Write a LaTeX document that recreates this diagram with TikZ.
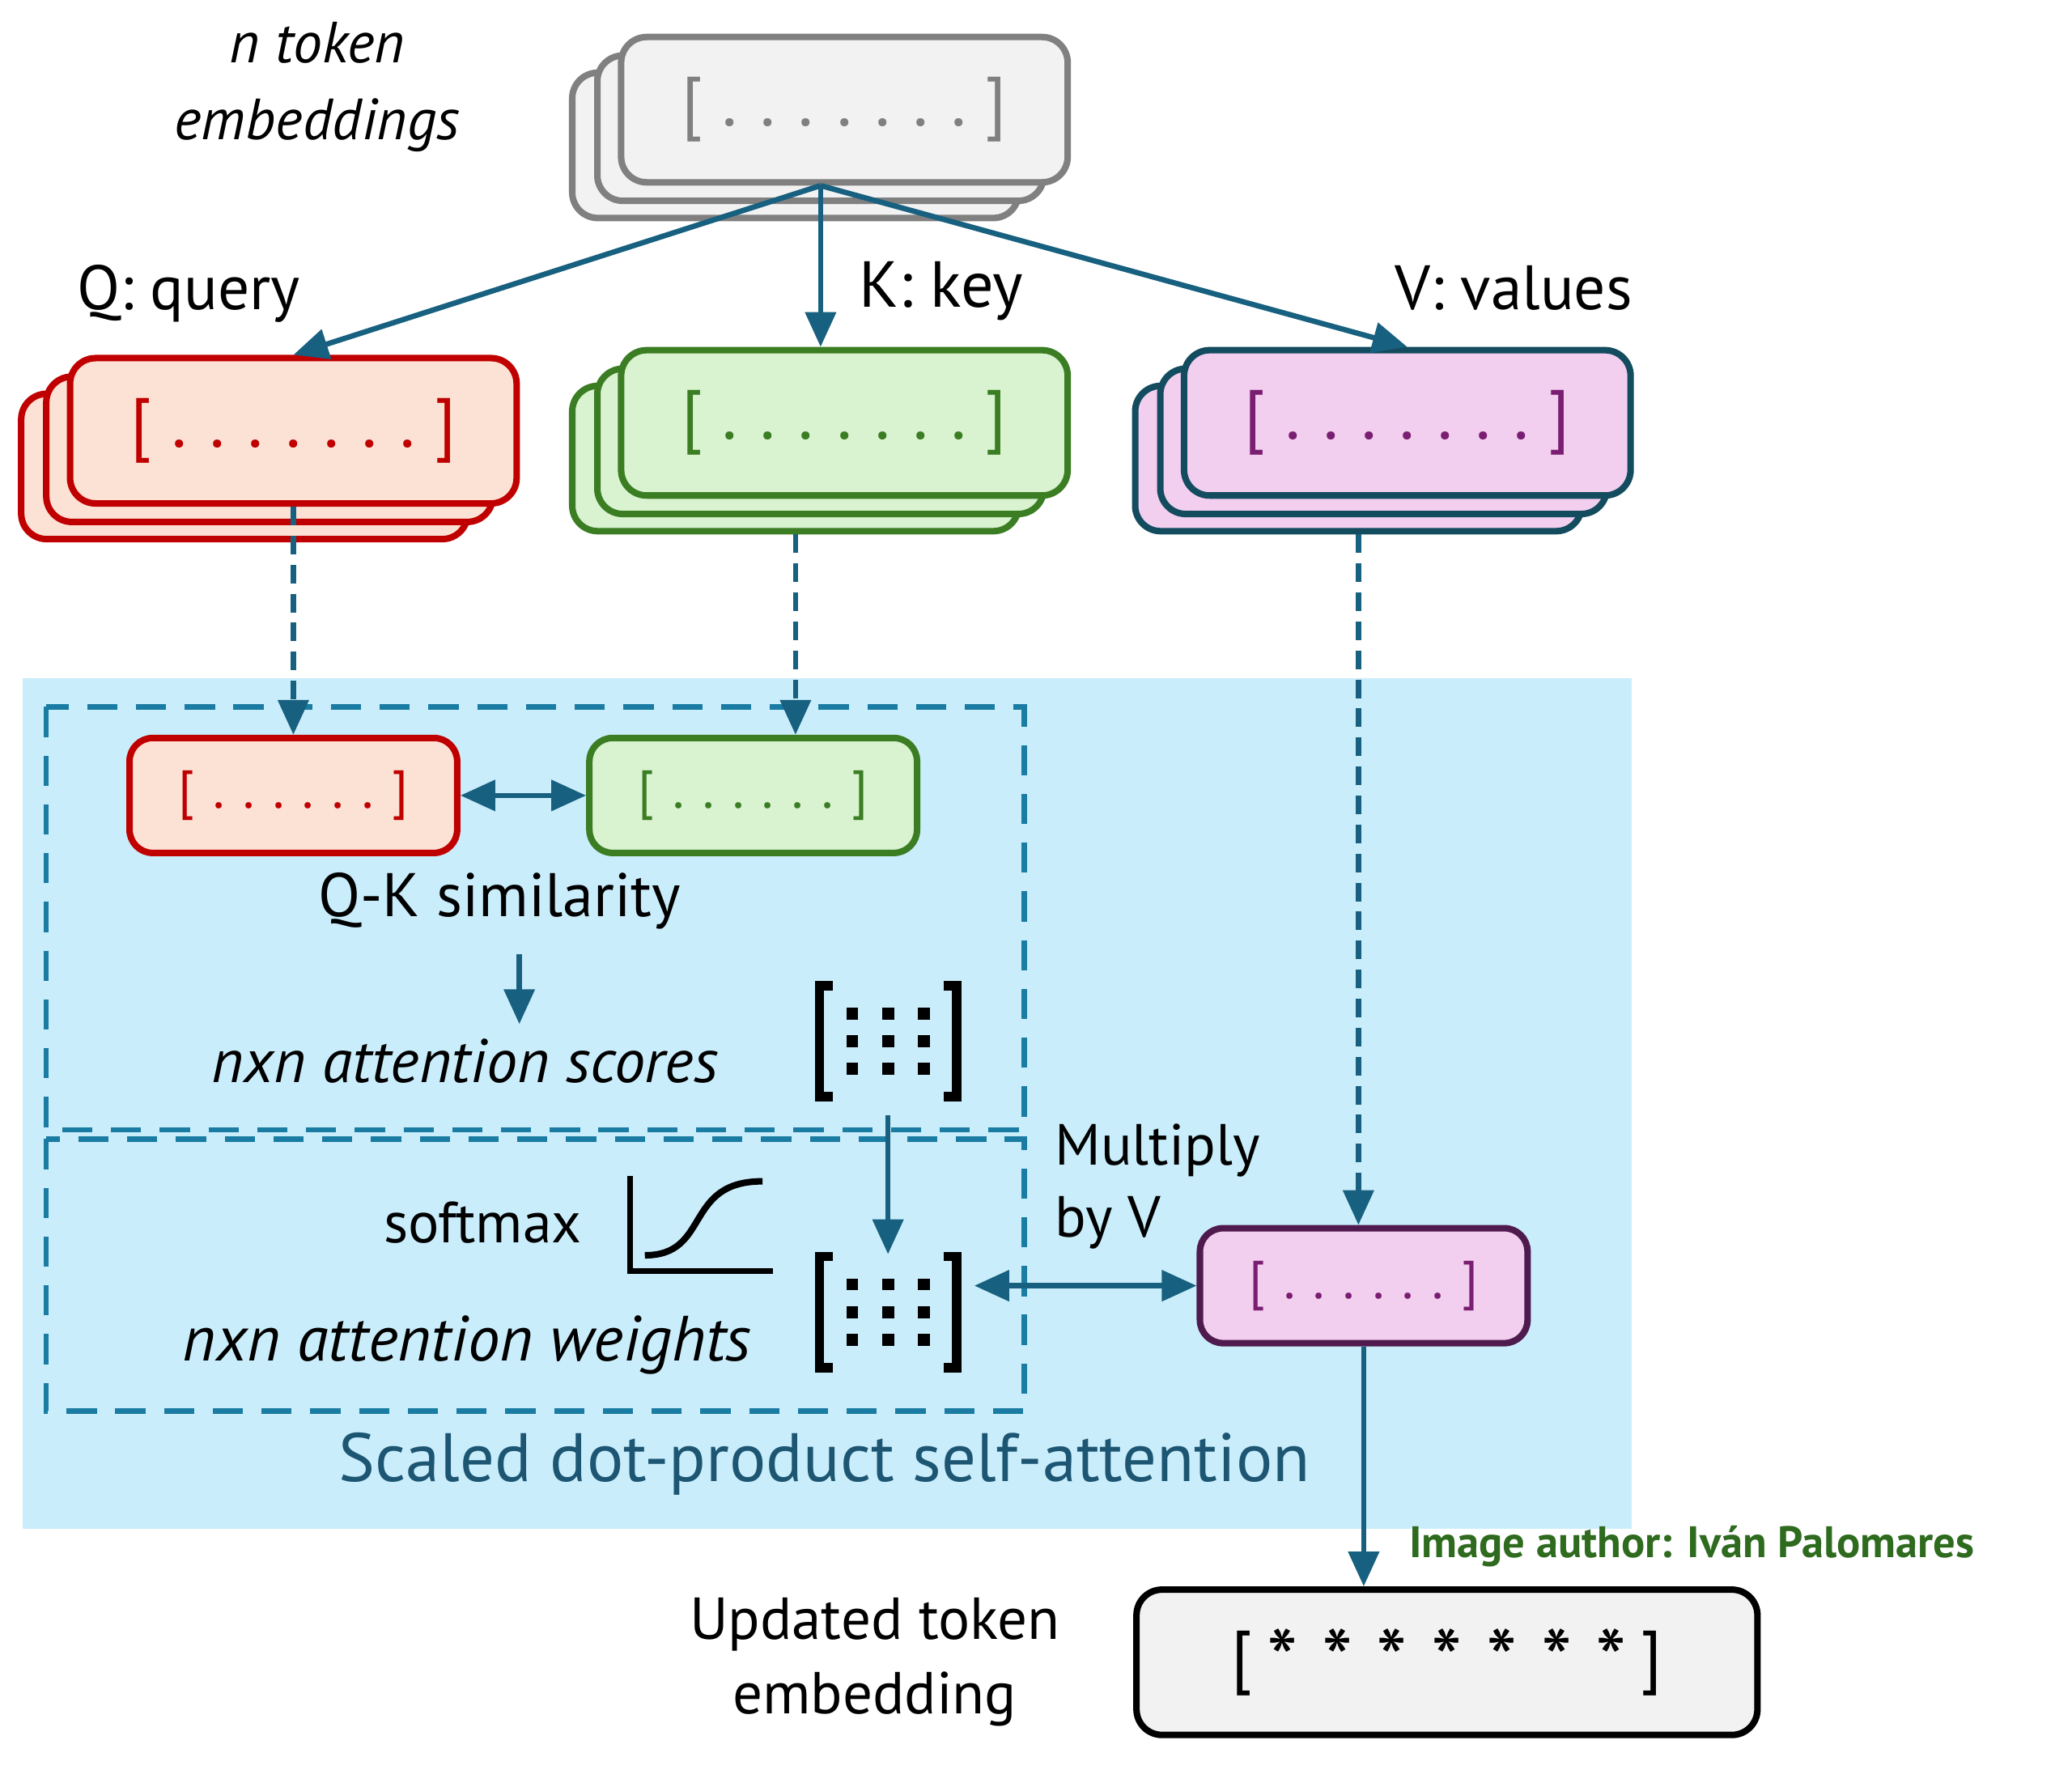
\documentclass[tikz,border=0pt]{standalone}
\usepackage{fontspec}
\setmainfont{PT Sans}
\usetikzlibrary{arrows.meta,calc}
\definecolor{arrc}{HTML}{17607F}
\definecolor{dboxc}{HTML}{1A7CA3}
\definecolor{bgc}{HTML}{CAEDFB}
\definecolor{grayS}{HTML}{808080}
\definecolor{grayF}{HTML}{F2F2F2}
\definecolor{qS}{HTML}{C00000}
\definecolor{qF}{HTML}{FBE2D5}
\definecolor{kS}{HTML}{3B7D23}
\definecolor{kF}{HTML}{D9F2D0}
\definecolor{vS}{HTML}{134B5F}
\definecolor{vF}{HTML}{F2CEEF}
\definecolor{vT}{HTML}{7A1E72}
\definecolor{pS}{HTML}{4F1A4D}
\definecolor{scaledc}{HTML}{1D5673}
\definecolor{authc}{HTML}{2E6B1E}
\newcommand\dd[1]{\makebox[#1]{.}}
\newcommand\sevendots{[\hspace{3.5pt}\dd{16.4pt}\dd{16.4pt}\dd{16.4pt}\dd{16.4pt}\dd{16.4pt}\dd{16.4pt}\dd{16.4pt}\hspace{3.5pt}]}
\newcommand\sixdots{[\hspace{4pt}\dd{12.8pt}\dd{12.8pt}\dd{12.8pt}\dd{12.8pt}\dd{12.8pt}\dd{12.8pt}\hspace{4pt}]}
\newcommand\st{\makebox[23.6pt]{\raisebox{-5pt}{\fontsize{38}{38}\selectfont *}}}
\tikzset{
  box/.style={rectangle, rounded corners=11pt, line width=2.8pt, inner sep=0pt,
    minimum width=6.76cm, minimum height=2.2cm},
  sbox/.style={rectangle, rounded corners=10pt, line width=2.8pt, inner sep=0pt,
    minimum width=4.96cm, minimum height=1.74cm},
  tip/.tip={Triangle[length=15pt,width=13pt]},
  arr/.style={draw=arrc, line width=2.3pt, -tip},
  darr/.style={arr, dash pattern=on 8pt off 4.5pt},
  dbl/.style={draw=arrc, line width=2.3pt, tip-tip},
  dbox/.style={draw=dboxc, line width=2.3pt, dash pattern=on 13pt off 8pt},
  lab/.style={font=\fontsize{27}{32}\selectfont, inner sep=0pt},
  vecf/.style={font=\fontsize{30}{30}\selectfont},
  svecf/.style={font=\fontsize{23}{23}\selectfont},
}
\newcommand\stack[7]{%
  \node[box,draw=#4,fill=#5] (#1b) at (#2-37,#3+27) {};
  \node[box,draw=#4,fill=#5] (#1m) at (#2-18,#3+14) {};
  \node[box,draw=#4,fill=#5,text=#6,vecf] (#1f) at (#2,#3) {#7};
}
\newcommand\matico[3]{%
  \node[minimum width=2.2cm, minimum height=1.74cm, inner sep=0pt] (#1) at (#2,#3) {};
  \draw[line width=4pt] (#2-42,#3-42) -- (#2-52,#3-42) -- (#2-52,#3+42) -- (#2-42,#3+42);
  \draw[line width=4pt] (#2+42,#3-42) -- (#2+52,#3-42) -- (#2+52,#3+42) -- (#2+42,#3+42);
  \foreach \i in {-27,0,27} \foreach \j in {-21,0,21}
    \fill (#2+\i-4.5,#3+\j-4.5) rectangle (#2+\i+4.5,#3+\j+4.5);
}
\begin{document}
\begin{tikzpicture}[x=0.02cm,y=-0.02cm]
\useasboundingbox (0,0) rectangle (1568,1352);
\fill[white] (0,0) rectangle (1568,1352);
% attention region
\fill[bgc] (17,513) rectangle (1235,1157);
\draw[dbox] (35,535) rectangle (775,855);
\draw[dbox] (35,862) rectangle (775,1068);

% stacks
\stack{g}{639}{83}{grayS}{grayF}{grayS}{\sevendots}
\stack{q}{222}{326}{qS}{qF}{qS}{\sevendots}
\stack{k}{639}{320}{kS}{kF}{kS}{\sevendots}
\stack{v}{1065}{320}{vS}{vF}{vT}{\sevendots}

% labels
\node[lab, font=\fontsize{25}{33}\selectfont\itshape, align=center] (ntok) at (240,66) {n token\\embeddings};
\node[lab, anchor=west] (qlab) at (58,222) {Q: query};
\node[lab, anchor=west, font=\fontsize{28}{32}\selectfont] (klab) at (650,220) {K: key};
\node[lab, anchor=west] (vlab) at (1055,218) {V: values};

% small boxes
\node[sbox, draw=qS, fill=qF, text=qS, svecf] (qs) at (222,602) {\sixdots};
\node[sbox, draw=kS, fill=kF, text=kS, svecf] (ks) at (570,602) {\sixdots};
\node[sbox, draw=pS, fill=vF, text=vT, svecf] (pv) at (1032,973) {\sixdots};

\node[lab, font=\fontsize{26.5}{30}\selectfont] (qksim) at (378,682) {Q-K similarity};
\node[lab, anchor=west, font=\fontsize{26.5}{30}\selectfont\itshape] (scores) at (160,803) {nxn attention scores};
\node[lab, anchor=west, font=\fontsize{25}{30}\selectfont] (smax) at (290,925) {softmax};
\node[lab, anchor=west, font=\fontsize{27.5}{30}\selectfont\itshape] (weights) at (138,1018) {nxn attention weights};
\node[lab, anchor=west, align=left, font=\fontsize{25}{31}\selectfont] (mult) at (798,898) {Multiply\\by V};
\node[lab, text=scaledc, font=\fontsize{29.5}{30}\selectfont] (scaled) at (624,1108) {Scaled dot-product self-attention};
\node[lab, anchor=west, text=authc, font=\fontsize{19}{20}\selectfont\bfseries] (auth) at (1066,1170) {Image author: Iván Palomares};
\node[lab, align=center, font=\fontsize{25.5}{32}\selectfont] (updlab) at (662,1258) {Updated token\\embedding};

% matrices
\matico{m1}{672}{788}
\matico{m2}{672}{993}

% sigmoid icon
\draw[line width=2.5pt] (477,890) -- (477,962) -- (585,962);
\draw[line width=2.8pt] (488,950) .. controls (538,950) and (517,894) .. (577,894);

% updated token box
\node[box, draw=black, fill=grayF, minimum width=9.4cm, font=\fontsize{30}{30}\selectfont] (upd) at (1095,1258) {[\hspace{1pt}\st\st\st\st\st\st\st\hspace{1pt}]};

% connectors
\coordinate (src) at ($(gf.south)+(-18,0)$);
\draw[arr] (src) -- (qf.north);
\draw[arr] (src) -- (src |- kf.north);
\draw[arr] (src) -- (vf.north);
\draw[darr] (qf.south) -- (qs.north);
\draw[darr] (kb.south) -- (kb.south |- ks.north);
\draw[darr] (vb.south) -- (vb.south |- pv.north);
\draw[dbl] (qs.east) -- (ks.west);
\coordinate (simout) at (393,722);
\coordinate (scorein) at (393,775);
\draw[arr] (simout) -- (scorein);
\draw[arr] ($(m1.south)+(0,12)$) -- (m2.north);
\draw[dbl] ($(m2.east)+(10,-20)$) -- (pv.west);
\draw[arr] (pv.south) -- (pv.south |- upd.north);
\end{tikzpicture}
\end{document}
